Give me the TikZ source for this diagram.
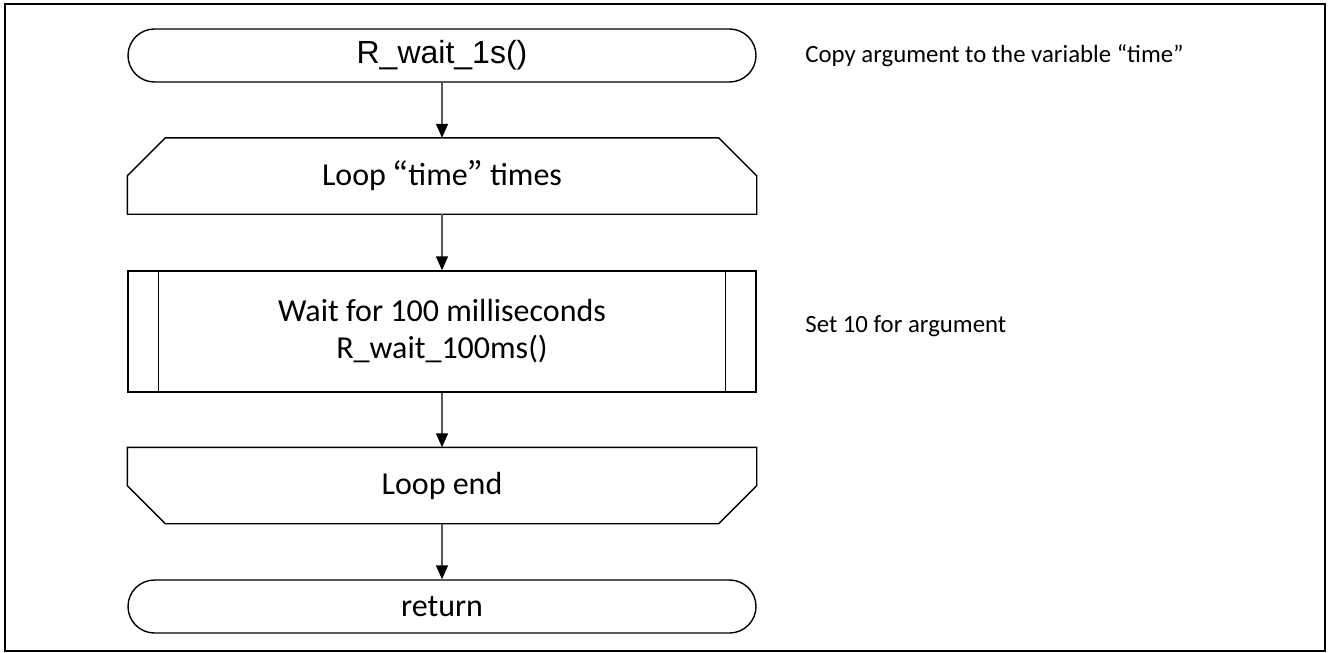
\documentclass[tikz,border=0pt]{standalone}
\usepackage{fontspec}
\setmainfont{Carlito}
\newfontfamily\arialfont{Liberation Sans}
\newfontfamily\cjkquote{Noto Sans CJK JP}
\usetikzlibrary{arrows.meta}

\begin{document}
\begin{tikzpicture}[x=0.5pt,y=-0.5pt]
                \tikzset{box/.style={draw, line width=0.7pt, minimum width=314pt, inner sep=0pt, align=center, font=\fontsize{16}{18.5}\selectfont},
                         terminal/.style={box, rounded corners=13.25pt, minimum height=26.5pt},
                         loopbox/.style={box, draw=none, minimum height=37.5pt},
                         subproc/.style={box, minimum height=60.5pt},
                         outline/.style={line width=0.7pt},
                         flow/.style={draw=black!65, line width=0.7pt, -{Triangle[length=7pt,width=6pt,black]}},
                         note/.style={anchor=west, inner sep=0pt, font=\fontsize{12.4}{15}\selectfont}}
                \useasboundingbox (0,0) rectangle (1328,653);
                \draw[line width=1.25pt] (5,4) rectangle (1325,651);
                % flow chart
                \node[terminal, font=\arialfont\fontsize{16}{18.5}\selectfont] (start) at (442,55.5) {R\_wait\_1s()};
                \node[loopbox] (loop) at (442,176) {Loop {\cjkquote “}time{\cjkquote ”} times};
                \draw[outline] ([yshift=-19pt]loop.north west) -- ([xshift=19pt]loop.north west)
                    -- ([xshift=-19pt]loop.north east) -- ([yshift=-19pt]loop.north east)
                    -- (loop.south east) -- (loop.south west) -- cycle;
                \node[subproc] (wait) at (442,331.5) {Wait for 100 milliseconds\\R\_wait\_100ms()};
                \draw[outline] ([xshift=15.5pt]wait.north west) -- ([xshift=15.5pt]wait.south west);
                \draw[outline] ([xshift=-15.5pt]wait.north east) -- ([xshift=-15.5pt]wait.south east);
                \node[loopbox] (lend) at (442,485.5) {Loop end};
                \draw[outline] (lend.north west) -- (lend.north east)
                    -- ([yshift=19pt]lend.south east) -- ([xshift=-19pt]lend.south east)
                    -- ([xshift=19pt]lend.south west) -- ([yshift=19pt]lend.south west) -- cycle;
                \node[terminal] (ret) at (442,606.5) {return};
                \draw[flow] (start.south) -- (loop.north);
                \draw[flow] (loop.south) -- (wait.north);
                \draw[flow] (wait.south) -- (lend.north);
                \draw[flow] (lend.south) -- (ret.north);
                % notes
                \node[note] (copynote) at (805,55.5) {Copy argument to the variable “time”};
                \node[note] (setnote) at (805,326) {Set 10 for argument};
\end{tikzpicture}
\end{document}
